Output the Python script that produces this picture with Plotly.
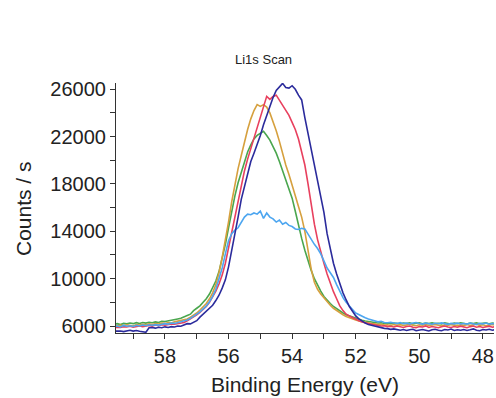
import plotly.graph_objects as go

# Binding energy grid (eV), 0.1 eV steps from 59.6 down to 47.6
energy = [round(59.6 - 0.1 * i, 1) for i in range(121)]

navy = [
    5560, 5600, 5580, 5530, 5610, 5640, 5570, 5620, 5560, 5500,
    5470, 5850, 5880, 5820, 5900, 5860, 5930, 5880, 5950, 5920,
    6000, 5980, 6080, 6200, 6180, 6320, 6450, 6750, 7000, 7250,
    7450, 7750, 8150, 8600, 9200, 9900, 11000, 12300, 13700, 15200,
    16700, 17800, 19000, 19900, 20600, 21300, 22100, 23000, 23800, 24600,
    25300, 25900, 26200, 26500, 26150, 26100, 26300, 26000, 25500, 25100,
    23600, 22300, 20900, 19700, 18300, 17100, 15600, 13800, 12400, 11300,
    10400, 9500, 8800, 8200, 7650, 7250, 6850, 6600, 6400, 6250,
    6120, 6050, 5950, 5900, 5850, 5800, 5780, 5720, 5760, 5680,
    5640, 5700, 5620, 5680, 5720, 5600, 5660, 5700, 5640, 5580,
    5680, 5720, 5640, 5600, 5700, 5660, 5740, 5620, 5680, 5640,
    5700, 5620, 5680, 5760, 5640, 5600, 5700, 5660, 5720, 5640,
    5700,
]

red = [
    5850, 5900, 5880, 5950, 5920, 5980, 5900, 5960, 6000, 5940,
    5980, 6050, 5990, 6080, 6020, 6100, 6060, 6120, 6180, 6150,
    6200, 6280, 6300, 6450, 6600, 6780, 6950, 7150, 7400, 7650,
    8000, 8450, 8950, 9550, 10300, 11300, 12600, 14000, 15400, 16800,
    18000, 19100, 20100, 21000, 21900, 22800, 23700, 24700, 25400, 25150,
    25400, 25500, 25050, 24600, 24250, 23800, 23200, 22600, 21800, 20800,
    19600, 18000, 16200, 14600, 13300, 12200, 11300, 10400, 9600, 8900,
    8300, 7700, 7300, 7000, 6850, 6700, 6550, 6450, 6350, 6250,
    6200, 6150, 6080, 6050, 6000, 6020, 5950, 5980, 5920, 6000,
    5940, 5880, 5960, 6000, 5900, 5860, 5950, 5920, 6010, 5880,
    5960, 5900, 5850, 5940, 6000, 5920, 5880, 5960, 5900, 5990,
    5920, 5860, 5950, 6000, 5900, 5960, 5880, 5940, 5990, 5900,
    5950,
]

gold = [
    6050, 6000, 6080, 6020, 6100, 6060, 6000, 6120, 6080, 6150,
    6100, 6180, 6130, 6200, 6160, 6250, 6220, 6300, 6260, 6350,
    6400, 6450, 6520, 6600, 6750, 6900, 7100, 7350, 7600, 7900,
    8300, 8800, 9500, 10500, 11800, 13200, 14800, 16500, 18000, 19300,
    20400, 21600, 22600, 23500, 24200, 24700, 24550, 24700, 24500, 24000,
    23300, 22500, 21600, 20500, 19600, 18800, 18000, 17000, 16100, 15200,
    14000, 12500, 10800, 9700, 9100, 8700, 8350, 8050, 7750, 7500,
    7300, 7100, 6950, 6800, 6680, 6580, 6500, 6420, 6350, 6300,
    6250, 6200, 6180, 6120, 6150, 6080, 6100, 6050, 6120, 6060,
    6100, 6040, 6080, 6150, 6060, 6020, 6100, 6070, 6130, 6050,
    6080, 6140, 6060, 6000, 6100, 6050, 6120, 6080, 6020, 6110,
    6060, 6120, 6040, 6100, 6150, 6060, 6100, 6030, 6090, 6140,
    6080,
]

green = [
    6150, 6200, 6120, 6220, 6180, 6250, 6200, 6280, 6220, 6300,
    6250, 6320, 6280, 6350, 6300, 6400, 6380, 6450, 6500, 6550,
    6600, 6650, 6800, 6880, 7000, 7300, 7500, 7700, 8000, 8300,
    8700, 9200, 9800, 10600, 11700, 12900, 14300, 15700, 17000, 18100,
    19000, 19900, 20700, 21300, 21800, 22100, 22300, 22450, 22100, 21700,
    21150, 20600, 19900, 19100, 18200, 17500, 16800, 15700, 14400, 13400,
    12400, 11500, 10700, 10000, 9450, 8950, 8500, 8150, 7900, 7650,
    7450, 7250, 7100, 6950, 6850, 6750, 6650, 6550, 6480, 6420,
    6380, 6330, 6300, 6260, 6280, 6220, 6250, 6200, 6260, 6220,
    6180, 6240, 6200, 6260, 6170, 6230, 6280, 6190, 6240, 6210,
    6260, 6200, 6230, 6180, 6270, 6220, 6160, 6240, 6200, 6280,
    6220, 6170, 6250, 6200, 6260, 6190, 6230, 6270, 6180, 6240,
    6200,
]

light_blue = [
    5950, 6000, 5920, 6050, 5980, 6020, 5960, 6060, 6000, 6080,
    6020, 6100, 6060, 6120, 6080, 6150, 6200, 6160, 6250, 6220,
    6300, 6350, 6420, 6500, 6650, 6800, 7000, 7200, 7450, 7700,
    8050, 8500, 9100, 9900, 10900, 12100, 13200, 13800, 14100, 14300,
    14700, 15200, 15450, 15400, 15550, 15450, 15700, 15100, 15550, 15200,
    15050, 14780, 14950, 14600, 14750, 14500, 14400, 14200, 14150, 14250,
    14200, 13750, 13300, 12900, 12550, 12100, 11500, 10900, 10500, 10100,
    9500, 8900, 8400, 8000, 7650, 7400, 7100, 6950, 6800, 6700,
    6600, 6500, 6420, 6350, 6400, 6300, 6280, 6320, 6250, 6220,
    6280, 6200, 6240, 6180, 6250, 6300, 6220, 6160, 6240, 6200,
    6150, 6230, 6190, 6260, 6200, 6140, 6220, 6180, 6250, 6170,
    6210, 6160, 6240, 6190, 6130, 6220, 6180, 6250, 6150, 6200,
    6180,
]

x_ticks = [58, 56, 54, 52, 50, 48]
y_ticks = [6000, 10000, 14000, 18000, 22000, 26000]
y_tick_labels = ["6000", "10000", "14000", "18000", "22000", "26000"]

series = [
    ("green", green, "#4aa64e"),
    ("gold", gold, "#d6a03e"),
    ("red", red, "#e8405e"),
    ("light blue", light_blue, "#4da6f0"),
    ("navy", navy, "#2b2b9c"),
]

fig = go.Figure()
for name, vals, col in series:
    fig.add_trace(go.Scatter(x=energy, y=vals, mode="lines", name=name,
                             line=dict(color=col, width=1.6), showlegend=False))

FONT = "Liberation Sans, Arial, sans-serif"
axis_common = dict(showline=True, linecolor="#333333", linewidth=1.2,
                   ticks="outside", ticklen=5, tickcolor="#333333", tickwidth=1.2,
                   showgrid=False, zeroline=False, mirror=False,
                   tickfont=dict(family=FONT, size=20, color="#222222"))

fig.update_xaxes(range=[59.54, 47.65], tickvals=x_ticks,
                 ticktext=[str(v) for v in x_ticks],
                 minor=dict(dtick=1, tick0=0, ticks="outside", ticklen=5,
                            tickcolor="#333333", tickwidth=1.2),
                 **axis_common)
fig.update_yaxes(range=[5410, 26530], tickvals=y_ticks, ticktext=y_tick_labels,
                 minor=dict(dtick=2000, tick0=0, ticks="outside", ticklen=5,
                            tickcolor="#333333", tickwidth=1.2),
                 **axis_common)

W, H = 496, 398
L, R, T, B = 116, 2, 83, 65
pw, ph = W - L - R, H - T - B

def px_x(px):
    return (px - L) / pw

def px_y(py):
    return 1 - (py - T) / ph

fig.update_layout(
    width=W, height=H,
    margin=dict(l=L, r=R, t=T, b=B, autoexpand=False),
    plot_bgcolor="white", paper_bgcolor="white",
    font=dict(family=FONT, color="#222222"),
    annotations=[
        dict(text="Li1s Scan", x=px_x(263), y=px_y(60), xref="paper", yref="paper",
             showarrow=False, font=dict(size=13, family=FONT, color="#222222"),
             xanchor="center", yanchor="middle"),
        dict(text="Counts / s", x=px_x(23), y=px_y(209), xref="paper", yref="paper",
             showarrow=False, textangle=-90, font=dict(size=21, family=FONT, color="#222222"),
             xanchor="center", yanchor="middle"),
        dict(text="Binding Energy (eV)", x=px_x(305), y=px_y(384), xref="paper", yref="paper",
             showarrow=False, font=dict(size=21, family=FONT, color="#222222"),
             xanchor="center", yanchor="middle"),
    ],
)

fig.write_html("out.html", config={"displayModeBar": False},
               post_script="document.body.style.margin='0';document.body.style.overflow='hidden';")
